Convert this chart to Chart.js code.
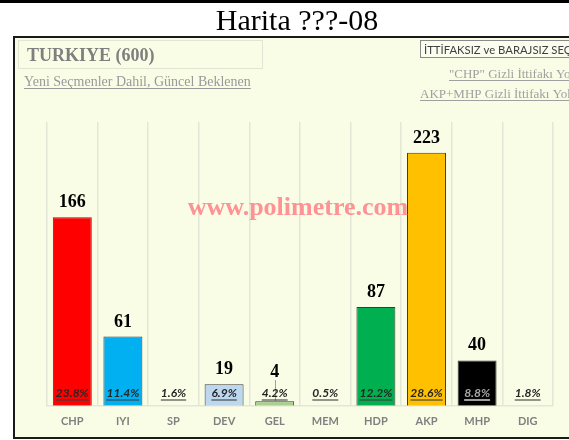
<!DOCTYPE html>
<html>
<head>
<meta charset="utf-8">
<script src="https://cdn.jsdelivr.net/npm/chart.js@4"></script>
<style>
html,body{margin:0;padding:0;background:#fff;}
#wrap{width:569px;height:440px;position:relative;}
</style>
</head>
<body>
<div id="wrap"><canvas id="c" width="569" height="440"></canvas></div>
<script>
const categories = ["CHP","IYI","SP","DEV","GEL","MEM","HDP","AKP","MHP","DIG"];
const seats = [166, 61, 0, 19, 4, 0, 87, 223, 40, 0];
const percents = [23.8, 11.4, 1.6, 6.9, 4.2, 0.5, 12.2, 28.6, 8.8, 1.8];
const barColors = ["#ff0000","#00b0f0","#ffffff","#bdd7ee","#a9d18e","#ffffff","#00b050","#ffc000","#000000","#ffffff"];
const titleText = "Harita ???-08";
const boxTitle = "TURKIYE (600)";
const subTitle = "Yeni Seçmenler Dahil, Güncel Beklenen";
const rightBox = "İTTİFAKSIZ ve BARAJSIZ SEÇİM";
const rightLine1 = "\"CHP\" Gizli İttifakı Yok";
const rightLine2 = "AKP+MHP Gizli İttifakı Yok";
const watermark = "www.polimetre.com";

function underlineText(ctx, text, x, y, align, color, thick){
  const w = ctx.measureText(text).width;
  let x0 = align === 'center' ? x - w/2 : (align === 'right' ? x - w : x);
  ctx.fillStyle = color;
  ctx.fillRect(x0, y, w, thick);
}

const background = {
  id: 'background',
  beforeDraw(chart){
    const ctx = chart.ctx;
    ctx.save();
    ctx.fillStyle = '#ffffff';
    ctx.fillRect(0,0,569,440);
    ctx.fillStyle = '#000';
    ctx.fillRect(0,0,569,3);
    ctx.fillStyle = '#000';
    ctx.font = '30px "Liberation Serif"';
    ctx.textAlign = 'center';
    ctx.textBaseline = 'alphabetic';
    ctx.fillText(titleText, 297, 30);
    // chart box
    ctx.fillStyle = '#fafde6';
    ctx.fillRect(14,37,570,401);
    ctx.strokeStyle = '#1a1a1a';
    ctx.lineWidth = 2;
    ctx.strokeRect(14,37,570,401);
    // left title box
    ctx.fillStyle = '#f8fbe4';
    ctx.strokeStyle = '#e2e4d4';
    ctx.lineWidth = 1;
    ctx.strokeRect(18.5,40.5,244,28);
    ctx.fillStyle = '#7f7f7f';
    ctx.font = 'bold 18px "Liberation Serif"';
    ctx.textAlign = 'left';
    ctx.fillText(boxTitle, 27, 61);
    ctx.font = '14px "Liberation Serif"';
    ctx.fillStyle = '#999999';
    ctx.fillText(subTitle, 24, 86);
    underlineText(ctx, subTitle, 24, 88, 'left', '#999999', 1);
    // right box
    ctx.fillStyle = '#fbfdee';
    ctx.fillRect(420.5,40.5,160,17);
    ctx.strokeStyle = '#8a8a8a';
    ctx.strokeRect(420.5,40.5,160,17);
    ctx.fillStyle = '#404040';
    ctx.font = '11.3px "Lato"';
    ctx.fillText(rightBox, 424, 54);
    ctx.font = '13px "Liberation Serif"';
    ctx.fillStyle = '#a0a0a0';
    ctx.fillText(rightLine1, 449, 78);
    underlineText(ctx, rightLine1, 449, 80, 'left', '#a0a0a0', 1);
    ctx.fillText(rightLine2, 420, 98);
    underlineText(ctx, rightLine2, 420, 100, 'left', '#a0a0a0', 1);
    ctx.restore();
  }
};

const labels = {
  id: 'labels',
  afterDatasetsDraw(chart){
    const ctx = chart.ctx;
    const meta = chart.getDatasetMeta(0);
    ctx.save();
    ctx.font = 'bold 26px "Liberation Serif"';
    ctx.fillStyle = 'rgba(255,110,120,0.75)';
    ctx.textAlign = 'center';
    ctx.textBaseline = 'alphabetic';
    ctx.fillText(watermark, 298, 215);
    meta.data.forEach((bar, i) => {
      const x = bar.x;
      if (seats[i] > 0) {
        let ly = bar.y - 10;
        if (ly > 377) {
          ly = 377;
          ctx.strokeStyle = '#a0a0a0';
          ctx.lineWidth = 1;
          ctx.beginPath();
          ctx.moveTo(Math.round(x)+0.5, ly + 3);
          ctx.lineTo(Math.round(x)+0.5, bar.y);
          ctx.stroke();
        }
        ctx.font = 'bold 18px "Liberation Serif"';
        ctx.fillStyle = '#000';
        ctx.textAlign = 'center';
        ctx.fillText(String(seats[i]), x, ly);
      }
      const t = percents[i].toFixed(1) + '%';
      ctx.font = 'italic bold 12px "Lato"';
      ctx.textAlign = 'center';
      const isM = categories[i] === 'MHP';
      ctx.fillStyle = isM ? '#a6a6a6' : '#262626';
      ctx.fillText(t, x, 397);
      underlineText(ctx, t, x, 399, 'center', isM ? 'rgba(166,166,166,0.95)' : 'rgba(60,60,60,0.55)', 2);
    });
    ctx.restore();
  }
};

new Chart(document.getElementById('c'), {
  type: 'bar',
  data: {
    labels: categories,
    datasets: [{
      data: seats,
      backgroundColor: barColors,
      borderColor: '#3a3a3a',
      borderWidth: 1,
      borderSkipped: 'bottom',
      barPercentage: 0.77,
      categoryPercentage: 1.0
    }]
  },
  options: {
    responsive: false,
    animation: false,
    devicePixelRatio: 1,
    layout: { padding: { left: 47, right: 16, top: 122, bottom: 3 } },
    plugins: { legend: { display: false }, tooltip: { enabled: false }, title: { display: false } },
    scales: {
      x: {
        offset: true,
        grid: { display: true, offset: true, color: '#e4e6d6', lineWidth: 1.5, drawTicks: false },
        border: { display: true, color: '#e4e6d6', width: 1.5 },
        ticks: { color: '#808080', font: { family: 'Lato', size: 11, weight: 'bold' }, padding: 9 }
      },
      y: {
        display: false,
        min: 0,
        max: 250
      }
    }
  },
  plugins: [background, labels]
});
</script>
</body>
</html>
